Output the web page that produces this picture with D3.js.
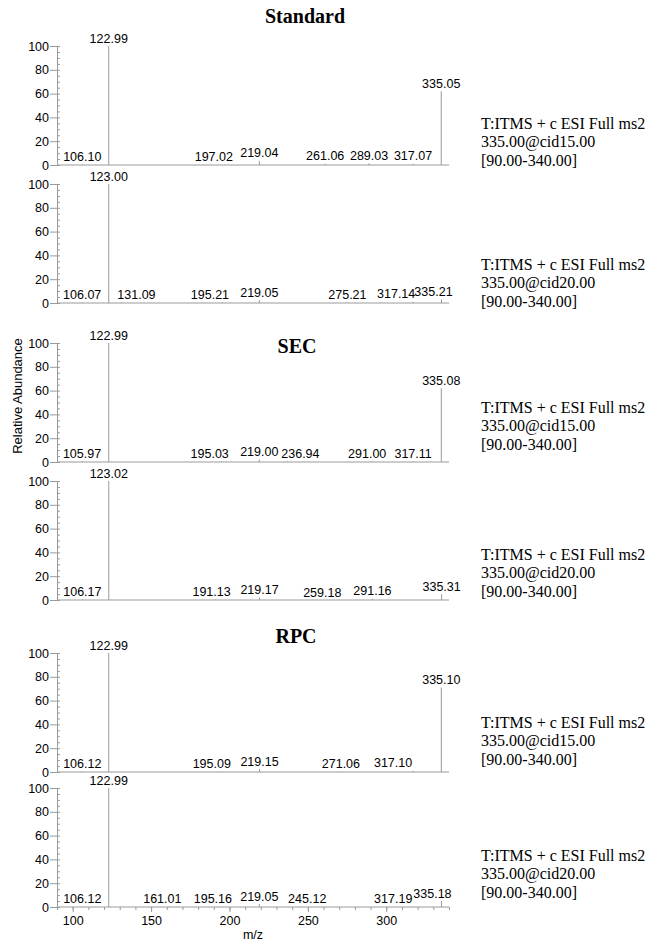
<!DOCTYPE html>
<html>
<head>
<meta charset="utf-8">
<title>MS2 spectra</title>
<style>
  body { margin: 0; background: #fff; }
  svg text { font-family: "Liberation Sans", Arial, sans-serif; fill: #000; }
  svg .serif { font-family: "Liberation Serif", "Times New Roman", serif; }
</style>
</head>
<body>
<div id="vis"></div>
<script src="https://d3js.org/d3.v7.min.js"></script>
<script>
// peaks: m/z and relative abundance (%)
let std15_mz = [106.10, 122.99, 197.02, 219.04, 261.06, 289.03, 317.07, 335.05];
let std15_ab = [0.5, 100, 0.3, 3.5, 1, 1.5, 1, 62];
let std20_mz = [106.07, 123.00, 131.09, 195.21, 219.05, 275.21, 317.14, 335.21];
let std20_ab = [0.5, 100, 0.5, 0.5, 2.5, 0.3, 1, 3];
let sec15_mz = [105.97, 122.99, 195.03, 219.00, 236.94, 291.00, 317.11, 335.08];
let sec15_ab = [0.5, 100, 0.5, 2, 0.5, 0.5, 0.5, 62];
let sec20_mz = [106.17, 123.02, 191.13, 219.17, 259.18, 291.16, 335.31];
let sec20_ab = [0.5, 100, 0.5, 2, 0, 1, 5];
let rpc15_mz = [106.12, 122.99, 195.09, 219.15, 271.06, 317.10, 335.10];
let rpc15_ab = [0.5, 100, 0.3, 2.5, 0.3, 1, 71];
let rpc20_mz = [106.12, 122.99, 161.01, 195.16, 219.05, 245.12, 317.19, 335.18];
let rpc20_ab = [0.5, 100, 0.5, 0.3, 2.5, 0.3, 0.5, 5];

let scanInfo = ["335.00@cid15.00", "335.00@cid20.00", "335.00@cid15.00",
                "335.00@cid20.00", "335.00@cid15.00", "335.00@cid20.00"];
let titles = ["Standard", "SEC", "RPC"];
let yTicks = [0, 20, 40, 60, 80, 100];
let xTicks = [100, 150, 200, 250, 300];

let spectra = [
  [std15_mz, std15_ab], [std20_mz, std20_ab],
  [sec15_mz, sec15_ab], [sec20_mz, sec20_ab],
  [rpc15_mz, rpc15_ab], [rpc20_mz, rpc20_ab]
];

// layout
let w = 649, h = 944;
let left = 57, right = 449;
let panelBottom = [165, 303, 462, 600, 772, 907];
let panelH = 119;
let textLast = [160, 301, 444, 591, 759, 892]; // centre of last info line
let titlePos = [[305, 23], [297, 353], [296, 643]];
// label nudges, like the instrument software does to avoid overlaps
let labelDx = {
  "0:197.02": -11,
  "1:131.09": 15, "1:195.21": -12, "1:317.14": -17, "1:335.21": -8,
  "2:195.03": -12, "2:236.94": 13, "2:291.00": -5,
  "3:191.13": -4,
  "4:195.09": -10, "4:317.10": -20,
  "5:161.01": -6, "5:195.16": -9, "5:245.12": 7, "5:317.19": -20, "5:335.18": -9
};
let grey = "#9a9a9a";

let svg = d3.select("#vis").append("svg")
  .attr("width", w)
  .attr("height", h);

let x = d3.scaleLinear().domain([90, 340]).range([left, right]);

spectra.forEach(function(s, p) {
  let y = d3.scaleLinear().domain([0, 100]).range([panelBottom[p], panelBottom[p] - panelH]);
  let g = svg.append("g");

  // y axis: majors outward with labels, minors inward
  let ya = g.append("g")
    .attr("transform", "translate(" + left + ",0)")
    .call(d3.axisLeft(y).tickValues(yTicks).tickSize(7).tickPadding(1).tickFormat(d3.format("d")));
  ya.select(".domain").attr("stroke", grey);
  ya.selectAll(".tick line").attr("stroke", grey);
  ya.selectAll("text").attr("font-size", 12.5).attr("font-family", null);

  let ym = g.append("g")
    .attr("transform", "translate(" + left + ",0)")
    .call(d3.axisRight(y).tickValues(d3.range(0, 101, 5)).tickSize(3).tickFormat(""));
  ym.select(".domain").remove();
  ym.selectAll(".tick line").attr("stroke", grey);

  // baseline
  g.append("line")
    .attr("x1", left).attr("x2", right)
    .attr("y1", y(0)).attr("y2", y(0))
    .attr("stroke", grey);

  let peaks = s[0].map(function(m, i) { return { mz: m, ab: s[1][i] }; });

  g.selectAll(".peak").data(peaks).enter().append("line")
    .attr("class", "peak")
    .attr("x1", d => x(d.mz)).attr("x2", d => x(d.mz))
    .attr("y1", y(0)).attr("y2", d => y(d.ab))
    .attr("stroke", grey);

  g.selectAll(".lbl").data(peaks).enter().append("text")
    .attr("class", "lbl")
    .attr("x", d => x(d.mz) + (labelDx[p + ":" + d.mz.toFixed(2)] || 0))
    .attr("y", d => y(d.ab) - 3.5)
    .attr("text-anchor", "middle")
    .attr("font-size", 12.5)
    .text(d => d.mz.toFixed(2));

  // scan header text
  let info = ["T:ITMS + c ESI Full ms2", scanInfo[p], "[90.00-340.00]"];
  g.selectAll(".info").data(info).enter().append("text")
    .attr("class", "info serif")
    .attr("x", 481)
    .attr("y", (d, i) => textLast[p] + 5.5 - (2 - i) * 18.5)
    .attr("font-size", 16)
    .text(d => d);

  // bottom panel gets the m/z axis
  if (p == spectra.length - 1) {
    let xa = g.append("g")
      .attr("transform", "translate(0," + y(0) + ")")
      .call(d3.axisBottom(x).tickValues(xTicks).tickSize(5).tickPadding(4));
    xa.select(".domain").remove();
    xa.selectAll(".tick line").attr("stroke", grey);
    xa.selectAll("text").attr("font-size", 12.5).attr("font-family", null);

    let xm = g.append("g")
      .attr("transform", "translate(0," + y(0) + ")")
      .call(d3.axisBottom(x).tickValues(d3.range(90, 341, 10)).tickSize(3).tickFormat(""));
    xm.select(".domain").remove();
    xm.selectAll(".tick line").attr("stroke", grey);

    g.append("text")
      .attr("x", x(215))
      .attr("y", y(0) + 32)
      .attr("text-anchor", "middle")
      .attr("font-size", 12.5)
      .text("m/z");
  }
});

titles.forEach(function(t, i) {
  svg.append("text")
    .attr("class", "serif")
    .attr("x", titlePos[i][0])
    .attr("y", titlePos[i][1])
    .attr("text-anchor", "middle")
    .attr("font-size", 20)
    .attr("font-weight", "bold")
    .text(t);
});

svg.append("text")
  .attr("transform", "translate(22,396) rotate(-90)")
  .attr("text-anchor", "middle")
  .attr("font-size", 13)
  .text("Relative Abundance");
</script>
</body>
</html>
